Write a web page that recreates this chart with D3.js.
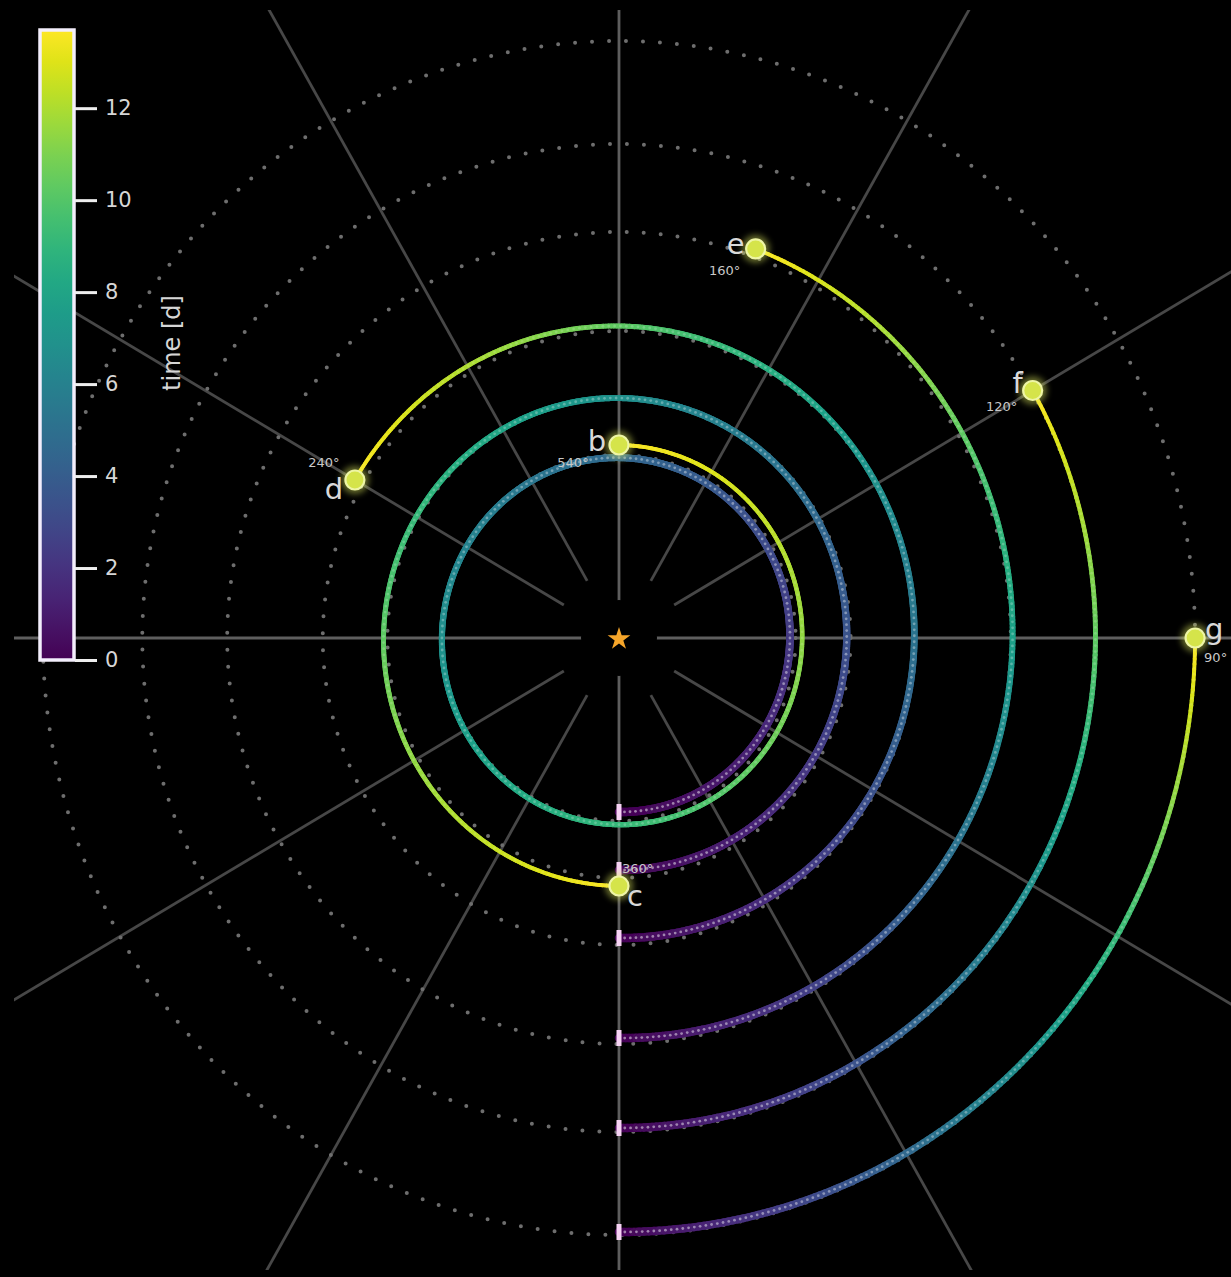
<!DOCTYPE html>
<html>
<head>
<meta charset="utf-8">
<script src="https://cdn.jsdelivr.net/npm/d3@7"></script>
<style>
  html, body { margin: 0; padding: 0; background: #000; }
  svg { display: block; }
</style>
</head>
<body>
<script>
// Planet names and orbit geometry (radial units)
const planets     = ["b", "c", "d", "e", "f", "g"];
const orbitRadius = [1.83, 2.40, 3.07, 4.06, 4.94, 5.97];
const trackStart  = [1.74, 2.32, 3.00, 4.00, 4.90, 5.94];
const trackEnd    = [1.93, 2.48, 3.16, 4.14, 4.95, 5.97];
// Angle swept by each planet over the time span (degrees)
const sweepDeg    = [540, 360, 240, 160, 120, 90];
const sweepLabels = ["540°", "360°", "240°", "160°", "120°", "90°"];
// Time span and colour-bar ticks (days)
const timeMax   = 13.7;
const timeTicks = [0, 2, 4, 6, 8, 10, 12];
// Polar grid directions (degrees)
const gridAngles = d3.range(0, 360, 30);

const W = 1231, H = 1277;
const cx = 619, cy = 638;
const FONT = "'DejaVu Sans', Verdana, sans-serif";

const svg = d3.select("body").append("svg")
  .attr("width", W).attr("height", H)
  .style("background", "#000")
  .style("font-family", FONT);

const defs = svg.append("defs");
defs.append("clipPath").attr("id", "plotClip")
  .append("rect").attr("x", 14).attr("y", 10).attr("width", W - 14).attr("height", H - 17);
const glow = defs.append("filter").attr("id", "glow")
  .attr("x", "-100%").attr("y", "-100%").attr("width", "300%").attr("height", "300%");
glow.append("feGaussianBlur").attr("stdDeviation", 3);
const soft = defs.append("filter").attr("id", "soft");
soft.append("feGaussianBlur").attr("stdDeviation", 0.7);

// Radial scales: vertical and (slightly narrower) horizontal
const ry = d3.scaleLinear().domain([0, 1]).range([0, 100]);
const rx = d3.scaleLinear().domain([0, 1]).range([0, 96.5]);
// angle measured from the bottom, turning through the right side
function pos(r, deg) {
  const a = deg * Math.PI / 180;
  return [cx + rx(r) * Math.sin(a), cy + ry(r) * Math.cos(a)];
}
const color = d3.scaleSequential(d3.interpolateViridis).domain([0, timeMax]);
const lineW = d3.scaleLinear().domain([0, timeMax]).range([8.5, 3.8]);
const dotAlpha = d3.scaleLinear().domain([0, timeMax]).range([0.5, 0.08]);

// ---- grid ----
const grid = svg.append("g").attr("clip-path", "url(#plotClip)");
grid.selectAll("line.spoke").data(gridAngles).join("line")
  .attr("class", "spoke")
  .each(function (d) {
    const inner = d % 90 === 0 ? 0 : 0.66;
    const p0 = pos(inner, d), p1 = pos(9, d);
    d3.select(this).attr("x1", p0[0]).attr("y1", p0[1]).attr("x2", p1[0]).attr("y2", p1[1]);
  })
  .attr("stroke", d => d % 90 === 0 ? "#5e5e5e" : "#474747")
  .attr("stroke-width", 2.8);

grid.selectAll("ellipse.orbit").data(orbitRadius).join("ellipse")
  .attr("class", "orbit")
  .attr("cx", cx).attr("cy", cy)
  .attr("rx", d => rx(d)).attr("ry", d => ry(d))
  .attr("fill", "none")
  .attr("stroke", "#6e6e6e")
  .attr("stroke-width", 4)
  .attr("stroke-linecap", "round")
  .attr("stroke-dasharray", "0 17");

// star and its dark surround
svg.append("circle").attr("cx", cx).attr("cy", cy).attr("r", 38).attr("fill", "#000");
svg.append("path")
  .attr("d", d3.symbol(d3.symbolStar).size(160)())
  .attr("transform", `translate(${cx},${cy + 1})`)
  .attr("fill", "#f5a52a");

// ---- tracks ----
const tracks = svg.append("g").attr("filter", "url(#soft)");
planets.forEach((p, i) => {
  const sweep = sweepDeg[i];
  const rAt = th => trackStart[i] + (trackEnd[i] - trackStart[i]) * th / sweep;
  const step = 0.5;
  const segs = d3.range(0, sweep, step).map(th => ({ th0: th, th1: Math.min(th + step, sweep) }));
  const g = tracks.append("g");
  g.selectAll("line").data(segs).join("line")
    .each(function (s) {
      const a = pos(rAt(s.th0), s.th0), b = pos(rAt(s.th1), s.th1);
      const t = timeMax * (s.th0 + s.th1) / 2 / sweep;
      d3.select(this)
        .attr("x1", a[0]).attr("y1", a[1]).attr("x2", b[0]).attr("y2", b[1])
        .attr("stroke", color(t))
        .attr("stroke-width", lineW(t));
    })
    .attr("stroke-linecap", "round");

  // beaded highlight along the track
  const arcLen = Math.PI / 180 * sweep * ry(rAt(sweep / 2));
  const nDots = Math.floor(arcLen / 6);
  const dots = d3.range(nDots).map(k => k * sweep / nDots);
  g.selectAll("circle").data(dots).join("circle")
    .attr("cx", th => pos(rAt(th), th)[0])
    .attr("cy", th => pos(rAt(th), th)[1])
    .attr("r", 1.4)
    .attr("fill", "#ffffff")
    .attr("opacity", th => dotAlpha(timeMax * th / sweep));

  // start tick
  const s0 = pos(trackStart[i], 0);
  tracks.append("rect")
    .attr("x", s0[0] - 2.5).attr("y", s0[1] - 8)
    .attr("width", 5).attr("height", 16)
    .attr("fill", "#f6d2f4");
});

// ---- planet markers and labels ----
const labelLayout = {
  b: { letter: [-22, 6],  deg: [-46, 22, "middle"] },
  c: { letter: [16, 20],  deg: [3, -13, "start"] },
  d: { letter: [-21, 19], deg: [-31, -13, "middle"] },
  e: { letter: [-20, 5],  deg: [-31, 26, "middle"] },
  f: { letter: [-15, 2],  deg: [-31, 20, "middle"] },
  g: { letter: [19, 1],   deg: [9, 24, "start"] }
};
const marks = svg.append("g");
planets.forEach((p, i) => {
  const [x, y] = pos(trackEnd[i], sweepDeg[i]);
  marks.append("circle").attr("cx", x).attr("cy", y).attr("r", 14)
    .attr("fill", "#e4f060").attr("opacity", 0.45).attr("filter", "url(#glow)");
  marks.append("circle").attr("cx", x).attr("cy", y).attr("r", 9.5)
    .attr("fill", "#d5e44a").attr("stroke", "#eef5a6").attr("stroke-width", 2.2);
  const L = labelLayout[p];
  marks.append("text")
    .attr("x", x + L.letter[0]).attr("y", y + L.letter[1])
    .attr("text-anchor", "middle")
    .attr("font-size", 29)
    .attr("fill", "#d9d9d9")
    .text(p);
  marks.append("text")
    .attr("x", x + L.deg[0]).attr("y", y + L.deg[1])
    .attr("text-anchor", L.deg[2])
    .attr("font-size", 13)
    .attr("fill", "#c8c8c8")
    .text(sweepLabels[i]);
});

// ---- colour bar ----
const cbX = 40, cbW = 34, cbTop = 30, cbBottom = 660;
const cbScale = d3.scaleLinear().domain([0, timeMax]).range([cbBottom, cbTop]);
const grad = defs.append("linearGradient").attr("id", "cbGrad")
  .attr("x1", 0).attr("y1", 1).attr("x2", 0).attr("y2", 0);
d3.range(0, 1.0001, 0.05).forEach(f => {
  grad.append("stop").attr("offset", f).attr("stop-color", color(f * timeMax));
});
const cb = svg.append("g");
cb.append("rect")
  .attr("x", cbX).attr("y", cbTop).attr("width", cbW).attr("height", cbBottom - cbTop)
  .attr("fill", "url(#cbGrad)")
  .attr("stroke", "#f3eefc").attr("stroke-width", 3.5);
const axis = d3.axisRight(cbScale).tickValues(timeTicks).tickSize(22).tickPadding(8).tickFormat(d3.format("d"));
const ax = cb.append("g").attr("transform", `translate(${cbX + cbW + 1},0)`).call(axis);
ax.select(".domain").remove();
ax.selectAll(".tick line").attr("stroke", "#eeeeee").attr("stroke-width", 3);
ax.selectAll(".tick text").attr("fill", "#d6d6d6").attr("font-size", 21)
  .style("font-family", FONT);
cb.append("text")
  .attr("transform", `translate(180,343) rotate(-90)`)
  .attr("text-anchor", "middle")
  .attr("font-size", 24)
  .attr("fill", "#d6d6d6")
  .text("time [d]");
</script>
</body>
</html>
